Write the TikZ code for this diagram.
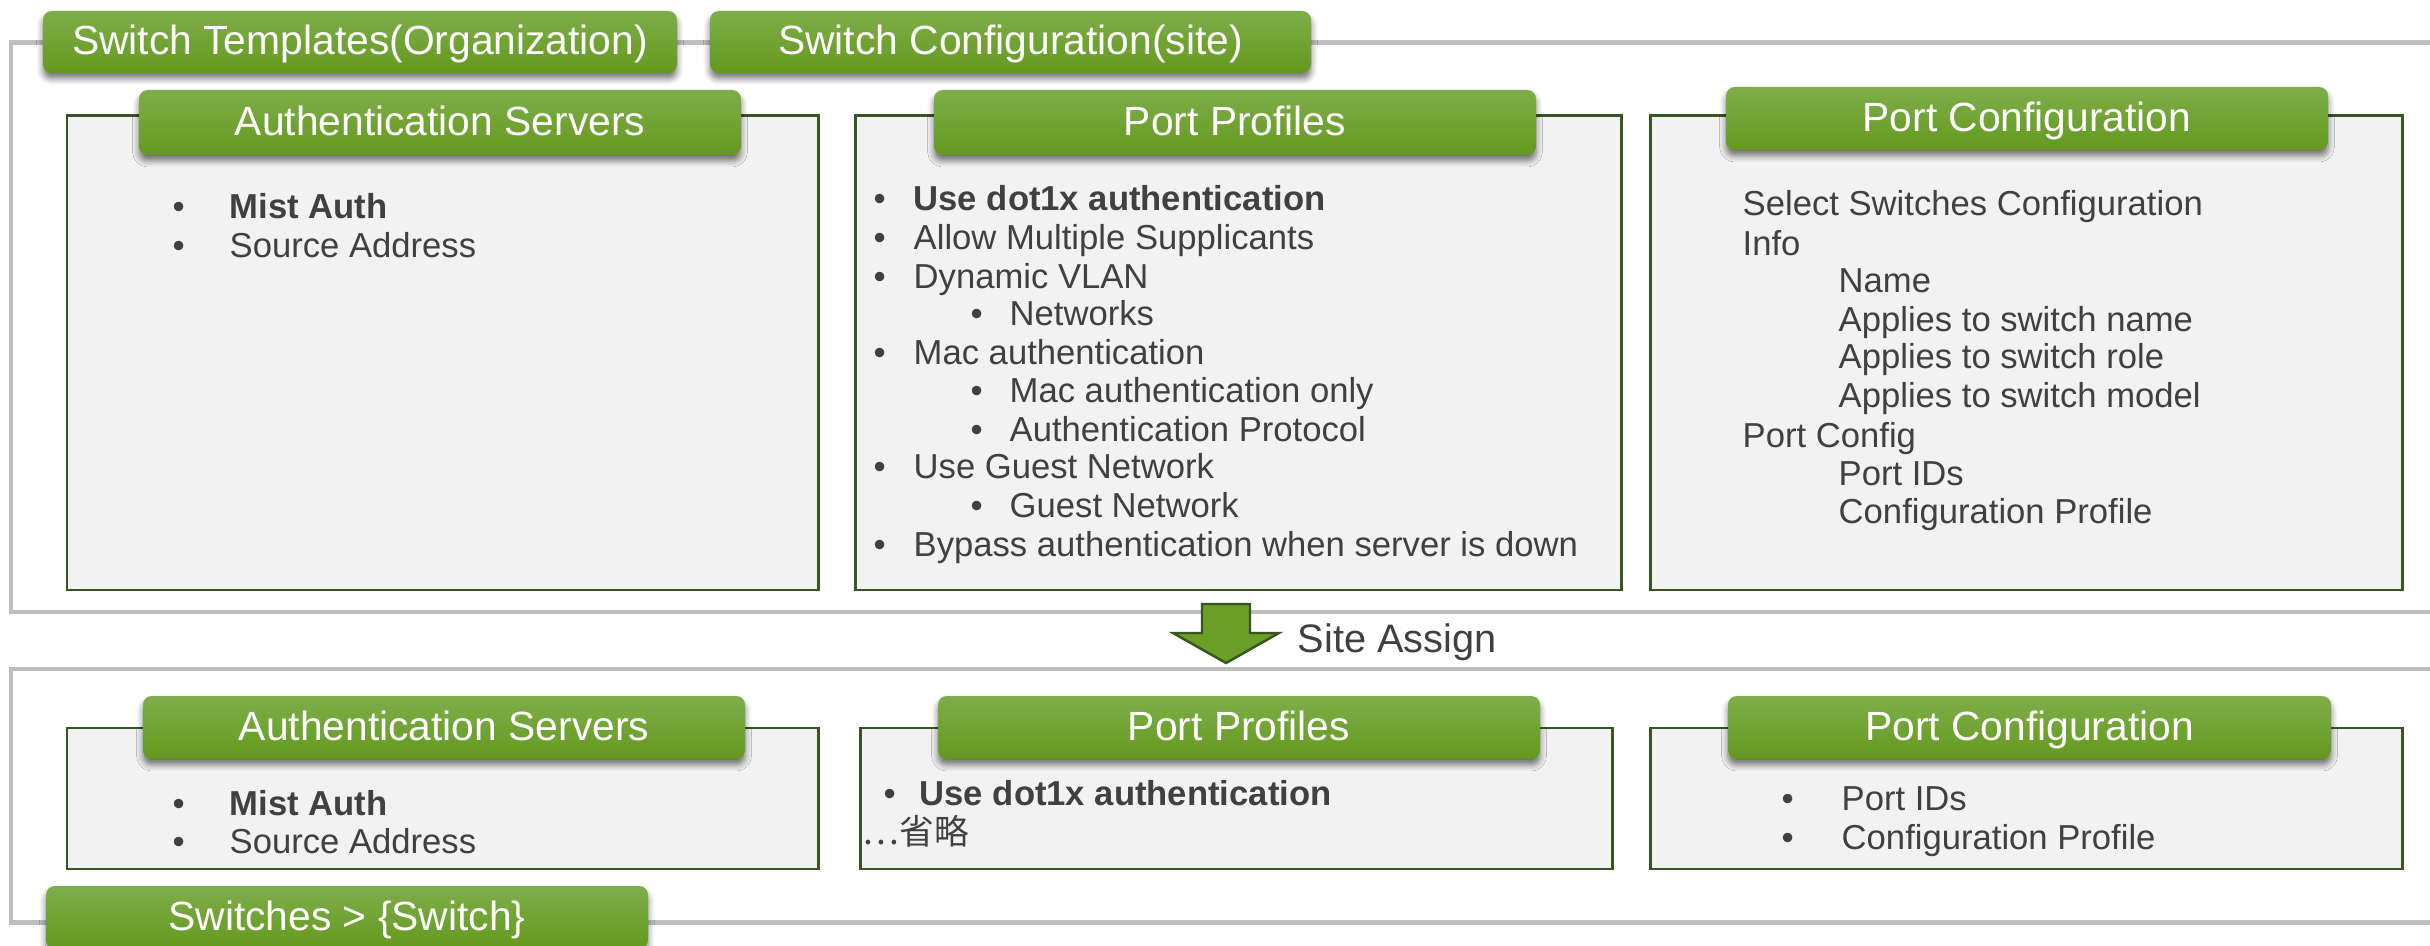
\documentclass[tikz,border=0pt]{standalone}
\usepackage{fontspec}
\setmainfont{Liberation Sans}
\newfontfamily\jpfont{Noto Sans CJK JP}
\usetikzlibrary{fit,shadows.blur}
\definecolor{txt}{HTML}{404040}
\definecolor{framegray}{HTML}{BFBFBF}
\definecolor{panelborder}{HTML}{375623}
\definecolor{panelfill}{HTML}{F2F2F2}
\definecolor{tabtop}{HTML}{7EAE4A}
\definecolor{tabbot}{HTML}{64991E}
\definecolor{arrowfill}{HTML}{6B9E27}
\newcommand\mytabfont{\fontsize{11.6}{14}\selectfont}
\newcommand\mybodyfont{\fontsize{9.85}{12}\selectfont}
\tikzset{
 frame/.style={draw=framegray, line width=1.42pt},
 panel/.style={draw=panelborder, fill=panelfill, line width=0.85pt, inner sep=0pt},
 tab/.style={inner sep=0pt, rounded corners=2.5pt, top color=tabtop, bottom color=tabbot, draw=none, text=white, font=\mytabfont,
   blur shadow={shadow xshift=0pt, shadow yshift=-1.6pt, shadow blur radius=1.8pt, shadow opacity=55}},
 tablabel/.style={inner sep=0pt, text=white, font=\mytabfont, text height=0.8em, text depth=0.08em},
 item/.style={anchor=west, inner sep=0pt, text=txt, font=\mybodyfont, text height=0.75em, text depth=0.2em, yshift=-0.9pt},
 assignarrow/.style={fill=arrowfill, draw=panelborder, line width=0.7pt}
}
\begin{document}
\begin{tikzpicture}[x=0.01cm,y=-0.01cm]
\useasboundingbox (0,0) rectangle (2430,946);
% frames
\draw[frame] (11,43) rectangle (2460,612);
\draw[frame] (11,669) rectangle (2460,922);
% panels top
\node[panel, fit={(67,116) (818,590)}] (as1) {};
\node[panel, fit={(855,116) (1621,590)}] (pp1) {};
\node[panel, fit={(1650,116) (2402,590)}] (pc1) {};
% panels bottom
\node[panel, fit={(67,728) (818,869)}] (as2) {};
\node[panel, fit={(860,728) (1612,869)}] (pp2) {};
\node[panel, fit={(1650,728) (2402,869)}] (pc2) {};
% tabs
\node[tab, fit={(43,11) (677,73)}] (t1) {};
\node[tablabel] (t1l) at (t1) {Switch Templates(Organization)};
\node[tab, fit={(710,11) (1311,73)}] (t2) {};
\node[tablabel] (t2l) at (t2) {Switch Configuration(site)};
\node[tab, fit={(139,90) (741,155)}] (tas1) {};
\node[tablabel] (tas1l) at (tas1) {Authentication Servers};
\node[tab, fit={(934,90) (1536,155)}] (tpp1) {};
\node[tablabel] (tpp1l) at (tpp1) {Port Profiles};
\node[tab, fit={(1726,87) (2328,150)}] (tpc1) {};
\node[tablabel] (tpc1l) at (tpc1) {Port Configuration};
\node[tab, fit={(143,696) (745,759)}] (tas2) {};
\node[tablabel] (tas2l) at (tas2) {Authentication Servers};
\node[tab, fit={(938,696) (1540,759)}] (tpp2) {};
\node[tablabel] (tpp2l) at (tpp2) {Port Profiles};
\node[tab, fit={(1728,696) (2331,759)}] (tpc2) {};
\node[tablabel] (tpc2l) at (tpc2) {Port Configuration};
\node[tab, fit={(46,886) (648,949)}] (tsw) {};
\node[tablabel] (tswl) at (tsw) {Switches > \{Switch\}};
% auth servers top
\node[item] (b1) at (172,206) {•};
\node[item, font=\mybodyfont\bfseries] (a1) at (229,206) {Mist Auth};
\node[item] (b2) at (172,245) {•};
\node[item] (a2) at (229,245) {Source Address};
% port profiles top
\node[item] (pb1) at (873,198) {•};
\node[item, font=\mybodyfont\bfseries] (p1) at (913,198) {Use dot1x authentication};
\node[item] (pb2) at (873,237) {•};
\node[item] (p2) at (913,237) {Allow Multiple Supplicants};
\node[item] (pb3) at (873,276) {•};
\node[item] (p3) at (913,276) {Dynamic VLAN};
\node[item] (pb4) at (970,313) {•};
\node[item] (p4) at (1009,313) {Networks};
\node[item] (pb5) at (873,352) {•};
\node[item] (p5) at (913,352) {Mac authentication};
\node[item] (pb6) at (970,390) {•};
\node[item] (p6) at (1009,390) {Mac authentication only};
\node[item] (pb7) at (970,429) {•};
\node[item] (p7) at (1009,429) {Authentication Protocol};
\node[item] (pb8) at (873,466) {•};
\node[item] (p8) at (913,466) {Use Guest Network};
\node[item] (pb9) at (970,505) {•};
\node[item] (p9) at (1009,505) {Guest Network};
\node[item] (pb10) at (873,544) {•};
\node[item] (p10) at (913,544) {Bypass authentication when server is down};
% port configuration top
\node[item] (c1) at (1742,203) {Select Switches Configuration};
\node[item] (c2) at (1742,243) {Info};
\node[item] (c3) at (1838,280) {Name};
\node[item] (c4) at (1838,319) {Applies to switch name};
\node[item] (c5) at (1838,356) {Applies to switch role};
\node[item] (c6) at (1838,395) {Applies to switch model};
\node[item] (c7) at (1742,435) {Port Config};
\node[item] (c8) at (1838,473) {Port IDs};
\node[item] (c9) at (1838,511) {Configuration Profile};
% arrow
\draw[assignarrow] (1202,604) -- (1250,604) -- (1250,633) -- (1279,633) -- (1226,663) -- (1173,633) -- (1202,633) -- cycle;
\node[anchor=west, inner sep=0pt, text=txt, font=\fontsize{11.3}{13}\selectfont, text height=0.75em, text depth=0.2em, yshift=-0.9pt] (sa) at (1297,640) {Site Assign};
% bottom auth
\node[item] (bb1) at (172,803) {•};
\node[item, font=\mybodyfont\bfseries] (ba1) at (229,803) {Mist Auth};
\node[item] (bb2) at (172,841) {•};
\node[item] (ba2) at (229,841) {Source Address};
% bottom port profiles
\node[item] (bpb1) at (883,793) {•};
\node[item, font=\mybodyfont\bfseries] (bp1) at (919,793) {Use dot1x authentication};
\node[item, font=\mybodyfont\jpfont] (bp2) at (862,832) {…省略};
% bottom port config
\node[item] (bcb1) at (1781,798) {•};
\node[item] (bc1) at (1841,798) {Port IDs};
\node[item] (bcb2) at (1781,837) {•};
\node[item] (bc2) at (1841,837) {Configuration Profile};
\end{tikzpicture}
\end{document}
